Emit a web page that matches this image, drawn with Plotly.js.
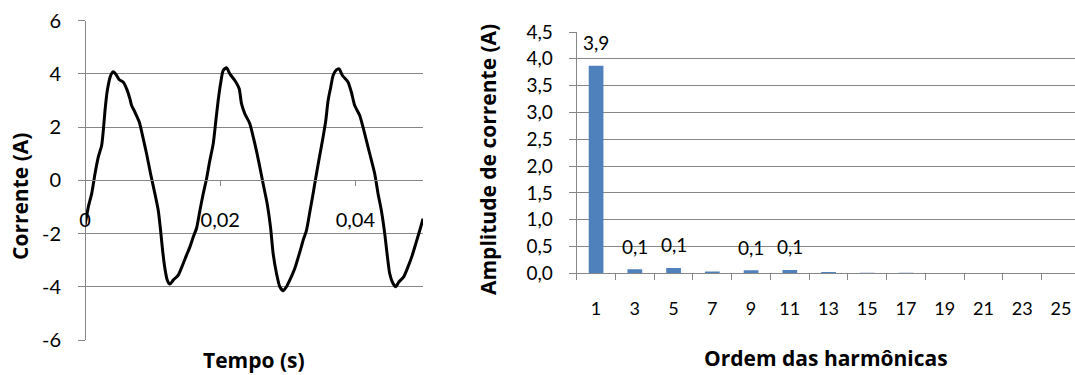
<!DOCTYPE html>
<html>
<head>
<meta charset="utf-8">
<script src="https://cdn.plot.ly/plotly-3.0.1.min.js"></script>
<style>html,body{margin:0;padding:0;overflow:hidden;background:#fff}</style>
</head>
<body>
<div id="chart" style="width:1075px;height:375px"></div>
<script>
// ---- Left chart: current waveform ----
const tempo = [0,0.00049,0.00099,0.00148,0.00197,0.00246,0.00271,0.00296,0.0033,0.00379,0.00419,0.00458,0.00507,0.00567,0.00616,0.00665,0.0069,0.00739,0.00803,0.00862,0.00911,0.0097,0.01034,0.01084,0.01118,0.01148,0.01182,0.01217,0.01256,0.01305,0.01379,0.01443,0.01502,0.01552,0.01601,0.0165,0.017,0.01749,0.01798,0.01847,0.01897,0.01936,0.0197,0.02005,0.02044,0.02094,0.02143,0.02217,0.02281,0.02315,0.02365,0.02438,0.02512,0.02576,0.02635,0.02695,0.02744,0.02783,0.02833,0.02882,0.02931,0.0298,0.03029,0.03103,0.03177,0.03227,0.03276,0.03325,0.03374,0.03424,0.03473,0.03522,0.03562,0.03596,0.03635,0.0367,0.03719,0.03759,0.03808,0.03892,0.03941,0.0399,0.04064,0.04138,0.04212,0.04286,0.04335,0.04384,0.04434,0.04468,0.04507,0.04557,0.04596,0.04645,0.04714,0.04778,0.04842,0.04901,0.0496,0.05];
const corrente = [-1.7,-1.0,-0.5,0.25,0.88,1.31,1.88,2.63,3.38,3.94,4.08,3.98,3.78,3.69,3.44,3.06,2.81,2.56,2.19,1.56,1.0,0.25,-0.5,-1.13,-1.88,-2.63,-3.31,-3.75,-3.9,-3.75,-3.56,-3.19,-2.81,-2.5,-2.13,-1.8,-1.13,-0.5,0.06,0.75,1.38,2.25,3.0,3.63,4.13,4.23,4.0,3.75,3.44,2.88,2.5,2.13,1.38,0.63,-0.13,-0.88,-1.75,-2.75,-3.5,-4.0,-4.15,-4.0,-3.75,-3.31,-2.7,-2.25,-1.88,-1.2,-0.5,0.25,0.94,1.63,2.25,3.0,3.5,3.94,4.15,4.19,3.94,3.69,3.31,2.81,2.44,1.75,1.0,0.25,-0.5,-1.13,-2.0,-2.75,-3.5,-3.88,-4.0,-3.81,-3.63,-3.25,-2.81,-2.31,-1.81,-1.44];
const tempoTicks = [0, 0.02, 0.04];
const tempoTickText = ['0', '0,02', '0,04'];
const correnteTicks = [-6, -4, -2, 0, 2, 4, 6];
const correnteTickText = ['-6', '-4', '-2', '0', '2', '4', '6'];

// ---- Right chart: harmonic spectrum ----
const ordens = ['1','3','5','7','9','11','13','15','17','19','21','23','25'];
const amplitudes = [3.87, 0.075, 0.10, 0.035, 0.055, 0.062, 0.025, 0.01, 0.01, 0.003, 0.002, 0.002, 0.002];
const rotulos = ['3,9', '0,1', '0,1', '', '0,1', '0,1', '', '', '', '', '', '', ''];

const GRID = '#878787';
const FONT = 'Lato, "Open Sans", sans-serif';
const TFONT = '"Open Sans", Lato, sans-serif';
const W = 1075, H = 375;
const px = v => v / W;
const py = v => (H - v) / H;

const traces = [
  {
    type: 'scatter', mode: 'lines', x: tempo, y: corrente,
    xaxis: 'x', yaxis: 'y',
    line: {color: '#000000', width: 3, shape: 'spline', smoothing: 0.6},
    hoverinfo: 'skip'
  },
  {
    type: 'bar', x: ordens, y: amplitudes,
    xaxis: 'x2', yaxis: 'y2',
    marker: {color: '#4F81BD'},
    hoverinfo: 'skip'
  }
];

const annotations = [];
ordens.forEach((o, i) => {
  if (rotulos[i]) {
    annotations.push({
      xref: 'x2', yref: 'y2', x: i, y: amplitudes[i], yshift: 23,
      text: rotulos[i], showarrow: false, xanchor: 'center', yanchor: 'middle',
      font: {family: FONT, size: 19, color: '#000'}
    });
  }
});
const tf = {family: TFONT, size: 21, color: '#000', weight: 'bold'};
annotations.push(
  {xref: 'paper', yref: 'paper', x: px(20), y: py(197), text: 'Corrente (A)', textangle: -90,
   showarrow: false, xanchor: 'center', yanchor: 'middle', font: tf},
  {xref: 'paper', yref: 'paper', x: px(254), y: py(360), text: 'Tempo (s)',
   showarrow: false, xanchor: 'center', yanchor: 'middle', font: tf},
  {xref: 'paper', yref: 'paper', x: px(488), y: py(160), text: 'Amplitude de corrente (A)', textangle: -90,
   showarrow: false, xanchor: 'center', yanchor: 'middle', font: tf},
  {xref: 'paper', yref: 'paper', x: px(826), y: py(358), text: 'Ordem das harmônicas',
   showarrow: false, xanchor: 'center', yanchor: 'middle', font: tf}
);

const layout = {
  width: W, height: H,
  margin: {l: 0, r: 0, t: 0, b: 0},
  paper_bgcolor: '#ffffff', plot_bgcolor: '#ffffff',
  showlegend: false,
  separators: ',.',
  bargap: 0.62,
  xaxis: {
    domain: [px(85), px(423)], range: [0, 0.05],
    anchor: 'free', position: py(180.3),
    showline: true, linecolor: GRID, linewidth: 1,
    ticks: 'outside', ticklen: 5, tickcolor: GRID, tickwidth: 1,
    tickvals: tempoTicks, ticktext: tempoTickText,
    showgrid: false, zeroline: false,
    ticklabelstandoff: 17,
    tickfont: {family: FONT, size: 20, color: '#000'}
  },
  yaxis: {
    domain: [py(340), py(20.7)], range: [-6, 6],
    anchor: 'free', position: px(85),
    showline: true, linecolor: GRID, linewidth: 1,
    ticks: 'outside', ticklen: 7, tickcolor: GRID,
    tickvals: correnteTicks, ticktext: correnteTickText,
    showgrid: true, gridcolor: GRID, gridwidth: 1, zeroline: false,
    ticklabelstandoff: 13,
    tickfont: {family: FONT, size: 20, color: '#000'}
  },
  xaxis2: {
    domain: [px(576.7), 1], type: 'category', range: [-0.5, 12.36],
    anchor: 'y2',
    showline: true, linecolor: GRID, linewidth: 1,
    ticks: 'outside', ticklen: 6, tickcolor: GRID, tickson: 'boundaries',
    showgrid: false, zeroline: false,
    ticklabelstandoff: 19,
    tickfont: {family: FONT, size: 18, color: '#000'}
  },
  yaxis2: {
    domain: [py(273.3), py(32)], range: [0, 4.5], dtick: 0.5, tick0: 0,
    tickformat: '.1f', anchor: 'x2',
    showline: true, linecolor: GRID, linewidth: 1,
    ticks: 'outside', ticklen: 7, tickcolor: GRID,
    showgrid: true, gridcolor: GRID, gridwidth: 1, zeroline: false,
    ticklabelstandoff: 12,
    tickfont: {family: FONT, size: 19, color: '#000'}
  },
  annotations: annotations
};

Plotly.newPlot('chart', traces, layout, {staticPlot: true, displayModeBar: false});
</script>
</body>
</html>
